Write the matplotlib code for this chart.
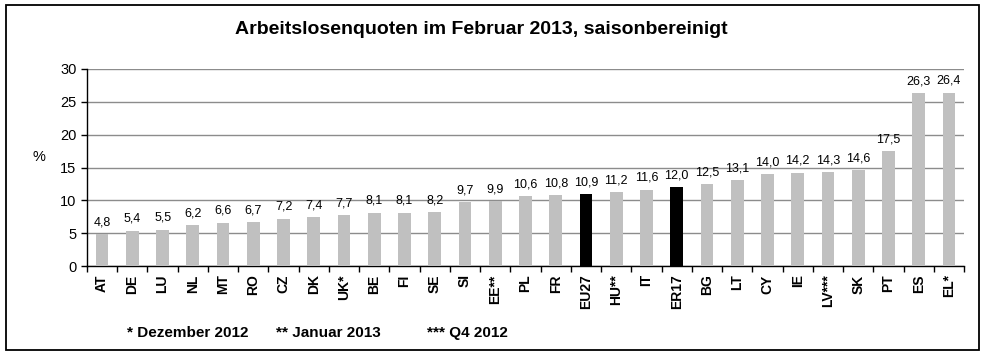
import numpy as np
from matplotlib import pyplot as plt
from matplotlib.patches import Rectangle

# Data
countries = ['AT', 'DE', 'LU', 'NL', 'MT', 'RO', 'CZ', 'DK', 'UK*', 'BE', 'FI', 'SE',
             'SI', 'EE**', 'PL', 'FR', 'EU27', 'HU**', 'IT', 'ER17', 'BG', 'LT', 'CY',
             'IE', 'LV***', 'SK', 'PT', 'ES', 'EL*']
rates = [4.8, 5.4, 5.5, 6.2, 6.6, 6.7, 7.2, 7.4, 7.7, 8.1, 8.1, 8.2,
         9.7, 9.9, 10.6, 10.8, 10.9, 11.2, 11.6, 12.0, 12.5, 13.1, 14.0,
         14.2, 14.3, 14.6, 17.5, 26.3, 26.4]
highlight = ['EU27', 'ER17']
footnotes = ['* Dezember 2012', '** Januar 2013', '*** Q4 2012']

plt.rcParams['font.family'] = ['Liberation Sans', 'DejaVu Sans']

fig = plt.figure(figsize=(9.87, 3.63), dpi=100)
ax = fig.add_axes([87 / 987, 1 - 266 / 363, (964 - 87) / 987, (266 - 69) / 363])

x = np.arange(len(countries))
colors = ['black' if c in highlight else '#c0c0c0' for c in countries]
ax.bar(x, rates, width=0.42, color=colors, zorder=3)

for xi, v in zip(x, rates):
    ax.text(xi, v + 0.9, f'{v:.1f}'.replace('.', ','), ha='center', va='bottom', fontsize=9)

ax.set_xlim(-0.5, len(countries) - 0.5)
ax.set_ylim(0, 30)
ax.set_yticks(range(0, 31, 5))
ax.tick_params(axis='y', labelsize=10.5, length=4, direction='out', width=1)
ax.grid(axis='y', color='#8c8c8c', linewidth=1, zorder=0)

# category labels between boundary ticks
ax.set_xticks(x)
ax.set_xticklabels(countries, rotation=90, fontsize=10, fontweight='bold')
ax.tick_params(axis='x', length=0, pad=6)
ax.set_xticks(np.arange(-0.5, len(countries), 1), minor=True)
ax.tick_params(axis='x', which='minor', length=4, width=1, direction='out')

for s in ['top', 'right']:
    ax.spines[s].set_visible(False)
ax.spines['left'].set_linewidth(1)
ax.spines['bottom'].set_linewidth(1)

ax.set_ylabel('%', rotation=0, fontsize=10.5)
ax.yaxis.set_label_coords(-0.055, 0.52)

fig.text(481 / 987, 1 - 30 / 363, 'Arbeitslosenquoten im Februar 2013, saisonbereinigt',
         ha='center', va='center', fontsize=14, fontweight='bold')

for xpos, txt in zip([127, 276, 427], footnotes):
    fig.text(xpos / 987, 1 - 333 / 363, txt, ha='left', va='center', fontsize=11, fontweight='bold')

fig.patches.append(Rectangle((6 / 987, 1 - 350 / 363), (979 - 6) / 987, (350 - 5) / 363,
                             transform=fig.transFigure, fill=False, edgecolor='black', linewidth=1.3))

fig.savefig('out.png', dpi=100)
